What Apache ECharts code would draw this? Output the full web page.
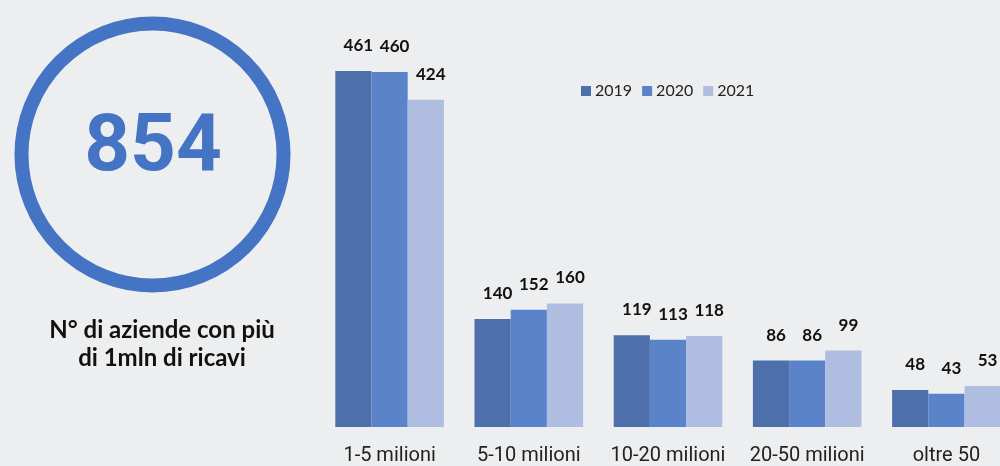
<!DOCTYPE html>
<html>
<head>
<meta charset="utf-8">
<script src="https://cdn.jsdelivr.net/npm/echarts@6/dist/echarts.min.js"></script>
<style>
  html, body { margin: 0; padding: 0; background: #edeef0; }
  #chart { width: 1000px; height: 466px; }
</style>
</head>
<body>
<div id="chart"></div>
<script>
// fasce di ricavi
var categories = ["1-5 milioni", "5-10 milioni", "10-20 milioni", "20-50 milioni", "oltre 50"];
var years = ["2019", "2020", "2021"];
var values2019 = [461, 140, 119, 86, 48];
var values2020 = [460, 152, 113, 86, 43];
var values2021 = [424, 160, 118, 99, 53];
var totale = "854";

var colors = ["#4d6faa", "#5a83ca", "#afbde0"];

var chart = echarts.init(document.getElementById("chart"));

function barSeries(name, data, idx) {
  return {
    name: name,
    type: "bar",
    data: data,
    barGap: 0,
    barCategoryGap: "22%",
    itemStyle: { color: colors[idx] },
    label: {
      show: true,
      position: "top",
      distance: 17,
      offset: [5, 0],
      color: "#111",
      fontFamily: "Lato",
      fontWeight: "bold",
      fontSize: 17
    }
  };
}

chart.setOption({
  backgroundColor: "#edeef0",
  animation: false,
  color: colors,
  legend: {
    data: years,
    left: 576,
    top: 78,
    icon: "rect",
    itemWidth: 10,
    itemHeight: 10,
    itemGap: 10,
    textStyle: { color: "#222", fontSize: 16, fontFamily: "Lato", padding: [0, 0, 0, -1] }
  },
  grid: {
    left: 320,
    right: -16,
    top: 41,
    bottom: 39,
    outerBoundsMode: "none",
    containLabel: false
  },
  xAxis: {
    type: "category",
    data: categories,
    axisLine: { show: false },
    axisTick: { show: false },
    axisLabel: {
      margin: 19,
      color: "#222",
      fontSize: 20,
      fontFamily: "Roboto",
      interval: 0
    }
  },
  yAxis: {
    type: "value",
    min: 0,
    max: 500,
    show: false,
    splitLine: { show: false }
  },
  series: [
    barSeries(years[0], values2019, 0),
    barSeries(years[1], values2020, 1),
    barSeries(years[2], values2021, 2)
  ],
  graphic: [
    {
      type: "circle",
      shape: { cx: 152.5, cy: 154.5, r: 131 },
      style: { fill: "none", stroke: "#4674c5", lineWidth: 14 }
    },
    {
      type: "text",
      x: 153,
      y: 150,
      style: {
        text: totale,
        fill: "#4674c5",
        font: "bold 80px Roboto, 'DejaVu Sans', sans-serif",
        align: "center",
        verticalAlign: "middle"
      }
    },
    {
      type: "text",
      x: 162,
      y: 344,
      style: {
        text: "N° di aziende con più\ndi 1mln di ricavi",
        fill: "#111",
        font: "bold 24px Lato, sans-serif",
        lineHeight: 28,
        align: "center",
        verticalAlign: "middle"
      }
    }
  ]
});
</script>
</body>
</html>
